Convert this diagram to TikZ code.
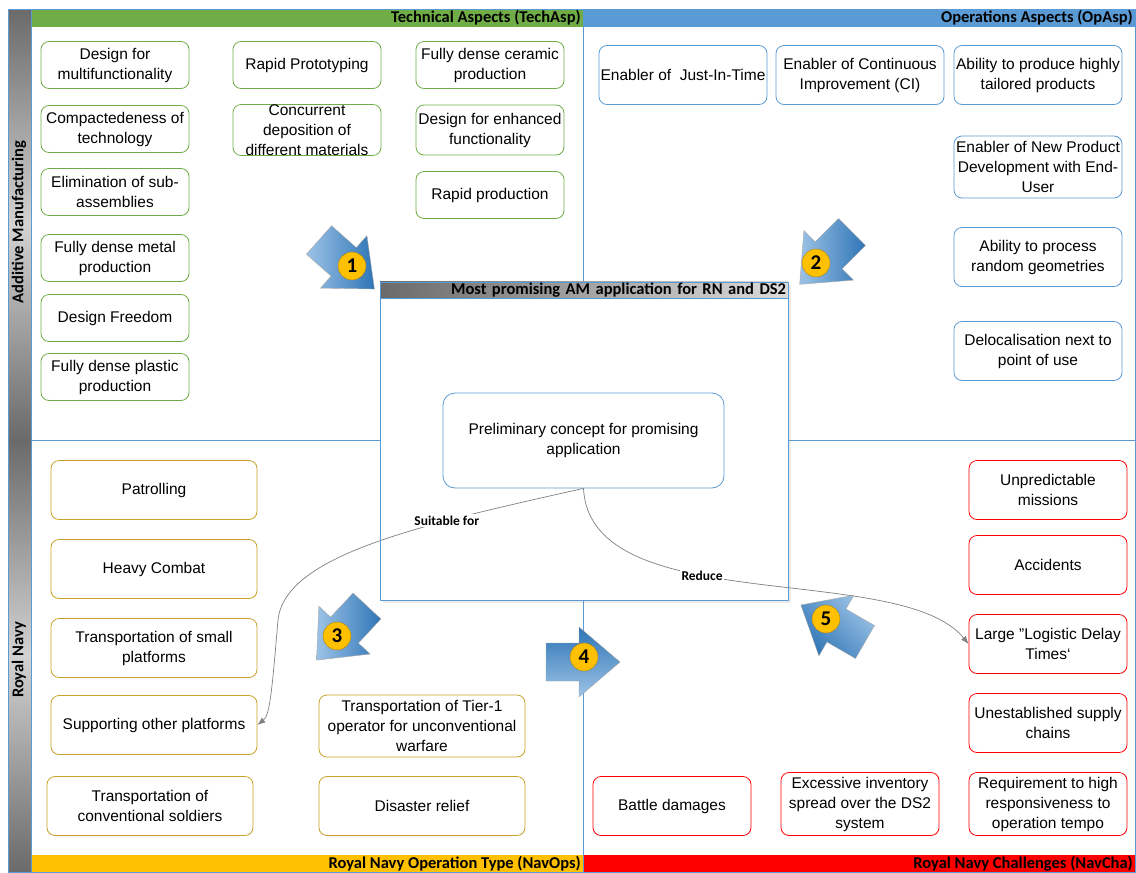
\documentclass[tikz,border=0pt]{standalone}
\usepackage{fontspec}
\setmainfont{Liberation Sans}
\newfontfamily\calibri{Carlito}
\usetikzlibrary{arrows.meta,shadows}

\definecolor{techgreen}{HTML}{70AD47}
\definecolor{opblue}{HTML}{5B9BD5}
\definecolor{navgold}{HTML}{C9A227}
\definecolor{navyellow}{HTML}{FFC000}
\definecolor{chared}{HTML}{FF0000}
\definecolor{arrowlight}{HTML}{9DC3E6}
\definecolor{arrowdark}{HTML}{2E75B6}
\definecolor{sidedark}{HTML}{6A6A6A}
\definecolor{sidelight}{HTML}{D2D2D2}

\tikzstyle{box} = [draw, line width=0.8pt, rounded corners=8pt, fill=white, align=center, inner xsep=1pt, inner ysep=2pt, font=\fontsize{15.5}{20}\selectfont]
\tikzstyle{tech} = [box, draw=techgreen, minimum width=148pt, minimum height=47pt]
\tikzstyle{ops} = [box, draw=opblue, minimum width=168pt, minimum height=59pt]
\tikzstyle{navy} = [box, draw=navgold, minimum width=206pt, minimum height=59pt]
\tikzstyle{chal} = [box, draw=chared, minimum width=158pt, minimum height=59pt]
\tikzstyle{bar} = [anchor=east, inner sep=1pt, font=\calibri\bfseries\fontsize{16.5}{17}\selectfont]
\tikzstyle{side} = [rotate=90, inner sep=1pt, font=\calibri\bfseries\fontsize{16.5}{17}\selectfont]
\tikzstyle{badge} = [circle, fill=navyellow, draw=navgold!80!black, minimum size=28pt, inner sep=0pt, font=\calibri\bfseries\fontsize{21}{21}\selectfont]
\tikzstyle{link} = [draw=gray, line width=0.7pt, -{Latex[length=8pt,width=6pt]}]
\tikzstyle{linklabel} = [fill=white, inner sep=1.5pt, font=\calibri\bfseries\fontsize{13.5}{14}\selectfont]

\begin{document}
\begin{tikzpicture}[x=1pt,y=-1pt]
	\useasboundingbox (0,0) rectangle (1136,873);

	% side bars and header/footer bars
	\shade[top color=sidedark, bottom color=sidedark, middle color=sidelight] (8,9) rectangle (31,440);
	\shade[top color=sidedark, bottom color=sidedark, middle color=sidelight] (8,440) rectangle (31,872);
	\fill[techgreen] (31,9) rectangle (583,27);
	\fill[opblue] (583,9) rectangle (1135,27);
	\fill[navyellow] (31,855) rectangle (583,872);
	\fill[chared] (583,855) rectangle (1135,872);
	\draw[opblue] (8,9) rectangle (1135,872);
	\draw[opblue] (31,9) -- (31,872);
	\draw[opblue] (583,9) -- (583,872);
	\draw[opblue] (31,440) -- (1135,440);

	\node[bar] (techasp) at (582,18) {Technical Aspects (TechAsp)};
	\node[bar] (opasp) at (1134,18) {Operations Aspects (OpAsp)};
	\node[bar] (navops) at (582,864) {Royal Navy Operation Type (NavOps)};
	\node[bar] (navcha) at (1134,864) {Royal Navy Challenges (NavCha)};
	\node[side] (am) at (19,222) {Additive Manufacturing};
	\node[side] (rn) at (19,660) {Royal Navy};

	% technical aspects
	\node[tech] (multi) at (115,65) {Design for\\multifunctionality};
	\node[tech] (compact) at (115,129) {Compactedeness of\\technology};
	\node[tech] (subass) at (115,192) {Elimination of sub-\\assemblies};
	\node[tech] (metal) at (115,258) {Fully dense metal\\production};
	\node[tech] (freedom) at (115,318) {Design Freedom};
	\node[tech] (plastic) at (115,377) {Fully dense plastic\\production};
	\node[tech] (proto) at (307,65) {Rapid Prototyping};
	\node[tech, minimum height=50pt, inner ysep=0pt] (concurrent) at (307,130) {Concurrent\\deposition of\\different materials};
	\node[tech] (ceramic) at (490,65) {Fully dense ceramic\\production};
	\node[tech, minimum height=50pt] (enhanced) at (490,130) {Design for enhanced\\functionality};
	\node[tech] (rapidprod) at (490,195) {Rapid production};

	% operations aspects
	\node[ops] (jit) at (683,75) {Enabler of\ \ Just-In-Time};
	\node[ops] (ci) at (860,75) {Enabler of Continuous\\Improvement (CI)};
	\node[ops] (tailored) at (1038,75) {Ability to produce highly\\tailored products};
	\node[ops, minimum height=62pt] (npd) at (1038,167) {Enabler of New Product\\Development with End-\\User};
	\node[ops] (random) at (1038,257) {Ability to process\\random geometries};
	\node[ops] (deloc) at (1038,351) {Delocalisation next to\\point of use};

	% operation types
	\node[navy] (patrol) at (154,490) {Patrolling};
	\node[navy] (combat) at (154,569) {Heavy Combat};
	\node[navy] (small) at (154,648) {Transportation of small\\platforms};
	\node[navy] (support) at (154,725) {Supporting other platforms};
	\node[navy] (soldiers) at (150,806) {Transportation of\\conventional soldiers};
	\node[navy, minimum height=62pt] (tier) at (422,726) {Transportation of Tier-1\\operator for unconventional\\warfare};
	\node[navy] (relief) at (422,806) {Disaster relief};

	% challenges
	\node[chal] (missions) at (1048,490) {Unpredictable\\missions};
	\node[chal] (accidents) at (1048,565) {Accidents};
	\node[chal] (logistic) at (1048,644) {Large ”Logistic Delay\\Times‘};
	\node[chal] (supply) at (1048,723) {Unestablished supply\\chains};
	\node[chal, minimum height=63pt] (tempo) at (1048,804) {Requirement to high\\responsiveness to\\operation tempo};
	\node[chal] (damages) at (672,806) {Battle damages};
	\node[chal, minimum height=63pt] (inventory) at (860,804) {Excessive inventory\\spread over the DS2\\system};

	% central application box
	\node[draw=opblue, line width=0.8pt, fill=white, minimum width=408pt, minimum height=318pt, drop shadow={opacity=0.15}] (promise) at (584,441) {};
	\node[anchor=north, left color=sidedark, right color=sidelight!80, draw=opblue, minimum height=16pt, text width=404pt, inner xsep=2pt, inner ysep=0pt, align=right, font=\calibri\bfseries\fontsize{16.5}{17}\selectfont] (promisehead) at (promise.north) {Most promising AM application for RN and DS2};
	\node[box, draw=opblue, rounded corners=12pt, minimum width=281pt, minimum height=95pt] (prelim) at (583.5,440.5) {Preliminary concept for promising\\application};

	\draw[link] (prelim.south) .. controls (420,525) and (285,555) .. (278,620) node[linklabel, pos=0.3] {Suitable for}
		.. controls (272,690) and (270,715) .. (support.east);
	\draw[link] (prelim.south) .. controls (590,620) and (900,560) .. (logistic.west) node[linklabel, pos=0.4] {Reduce};

	% numbered block arrows
	\foreach \x/\y/\a/\s in {319/240/-41.5/90, 852/232/-135/90, 367/606/-133/90, 546/662/0/180, 865/642/150/-45}
		\shade[shift={(\x,\y)}, rotate=\a, top color=arrowlight, bottom color=arrowdark, shading angle=\s, draw=gray!70]
			(0,-19) -- (33,-19) -- (33,-35) -- (74,0) -- (33,35) -- (33,19) -- (0,19) -- cycle;
	\node[badge] (n1) at (352,266) {1};
	\node[badge] (n2) at (816,263) {2};
	\node[badge] (n3) at (337,636) {3};
	\node[badge] (n4) at (584,657) {4};
	\node[badge] (n5) at (826,619) {5};
\end{tikzpicture}
\end{document}
